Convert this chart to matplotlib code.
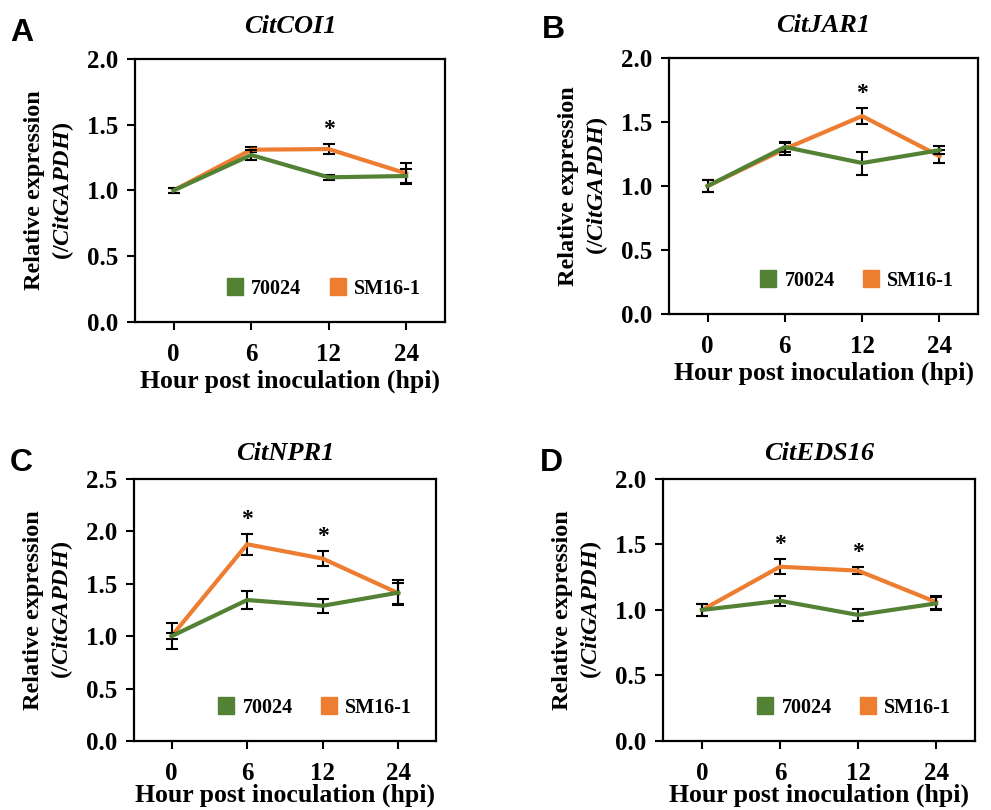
import matplotlib
matplotlib.use("Agg")
import matplotlib.pyplot as plt
from matplotlib.patches import Patch

plt.rcParams['font.family'] = ['Liberation Serif', 'DejaVu Serif']
plt.rcParams['font.weight'] = 'bold'
plt.rcParams['mathtext.fontset'] = 'custom'
plt.rcParams['mathtext.rm'] = 'Liberation Serif:bold'
plt.rcParams['mathtext.it'] = 'Liberation Serif:bold:italic'

hours = ["0", "6", "12", "24"]
genes = ["CitCOI1", "CitJAR1", "CitNPR1", "CitEDS16"]
letters = ["A", "B", "C", "D"]
ymax = [2.0, 2.0, 2.5, 2.0]

# means and errors, 70024 (green) and SM16-1 (orange)
coi1_70024 = [1.0, 1.27, 1.10, 1.11]
coi1_70024_err = [0.02, 0.04, 0.02, 0.05]
coi1_sm = [1.0, 1.31, 1.315, 1.13]
coi1_sm_err = [0.02, 0.02, 0.04, 0.08]
coi1_star = [False, False, True, False]

jar1_70024 = [1.0, 1.305, 1.18, 1.28]
jar1_70024_err = [0.05, 0.04, 0.09, 0.03]
jar1_sm = [1.0, 1.29, 1.547, 1.234]
jar1_sm_err = [0.05, 0.05, 0.065, 0.05]
jar1_star = [False, False, True, False]

npr1_70024 = [1.0, 1.345, 1.29, 1.415]
npr1_70024_err = [0.03, 0.083, 0.067, 0.12]
npr1_sm = [1.0, 1.877, 1.74, 1.41]
npr1_sm_err = [0.125, 0.1, 0.07, 0.1]
npr1_star = [False, True, True, False]

eds16_70024 = [1.0, 1.07, 0.962, 1.05]
eds16_70024_err = [0.045, 0.038, 0.046, 0.05]
eds16_sm = [1.0, 1.33, 1.30, 1.06]
eds16_sm_err = [0.045, 0.057, 0.027, 0.05]
eds16_star = [False, True, True, False]

green = "#548235"
orange = "#ED7D31"

data = [
    (coi1_70024, coi1_70024_err, coi1_sm, coi1_sm_err, coi1_star),
    (jar1_70024, jar1_70024_err, jar1_sm, jar1_sm_err, jar1_star),
    (npr1_70024, npr1_70024_err, npr1_sm, npr1_sm_err, npr1_star),
    (eds16_70024, eds16_70024_err, eds16_sm, eds16_sm_err, eds16_star),
]

positions = [
    [0.136, 0.6025, 0.313, 0.3247],
    [0.675, 0.6123, 0.312, 0.316],
    [0.135, 0.0852, 0.305, 0.3235],
    [0.669, 0.0852, 0.315, 0.3235],
]
title_pad = [19, 19, 14, 14]
xlabel_pad = [3, 3, -1, -1]
letter_xy = [(-0.40, 1.10), (-0.41, 1.11), (-0.41, 1.06), (-0.395, 1.06)]

fig = plt.figure(figsize=(9.91, 8.10), dpi=100)

for i in range(4):
    g, ge, s, se, star = data[i]
    ax = fig.add_axes(positions[i])
    x = list(range(len(hours)))
    ax.errorbar(x, g, yerr=ge, color=green, lw=3, ecolor="black",
                elinewidth=1.5, capsize=4.5, capthick=1.5, zorder=3)
    ax.errorbar(x, s, yerr=se, color=orange, lw=3, ecolor="black",
                elinewidth=1.5, capsize=4.5, capthick=1.5, zorder=2)
    # significance marks
    for j in range(len(hours)):
        if star[j]:
            top = max(g[j] + ge[j], s[j] + se[j])
            ax.text(j, top + 0.03 * ymax[i] / 2.0, "*", ha="center", va="bottom",
                    fontsize=17, fontweight="bold")

    ax.set_xlim(-0.5, 3.5)
    ax.set_ylim(0, ymax[i])
    ax.set_xticks(x)
    ax.set_xticklabels(hours)
    yt = [k * 0.5 for k in range(int(ymax[i] / 0.5) + 1)]
    ax.set_yticks(yt)
    ax.set_yticklabels(["%.1f" % v for v in yt])
    ax.tick_params(labelsize=18, width=1.5, length=6, direction="out")
    ax.tick_params(axis="x", pad=9)
    ax.tick_params(axis="y", pad=6)
    for sp in ax.spines.values():
        sp.set_linewidth(1.6)

    ax.set_xlabel("Hour post inoculation (hpi)", fontsize=18.5, fontweight="bold",
                  labelpad=xlabel_pad[i])
    ax.set_ylabel("Relative expression\n(/$\\mathit{CitGAPDH}$)", fontsize=17.5,
                  fontweight="bold", linespacing=1.25, labelpad=8)
    ax.set_title(genes[i], fontsize=19, fontweight="bold", fontstyle="italic", pad=title_pad[i])
    ax.text(letter_xy[i][0], letter_xy[i][1], letters[i], transform=ax.transAxes,
            fontsize=23, fontweight="bold", family="Liberation Sans", va="center")

    handles = [Patch(color=green, label="70024"), Patch(color=orange, label="SM16-1")]
    ax.legend(handles=handles, loc="lower right", ncol=2, frameon=False,
              handlelength=0.8, handleheight=0.9, handletextpad=0.4,
              columnspacing=1.4, prop={"weight": "bold", "size": 14.5},
              bbox_to_anchor=(0.98, 0.02))

plt.savefig("out.png", dpi=100)
